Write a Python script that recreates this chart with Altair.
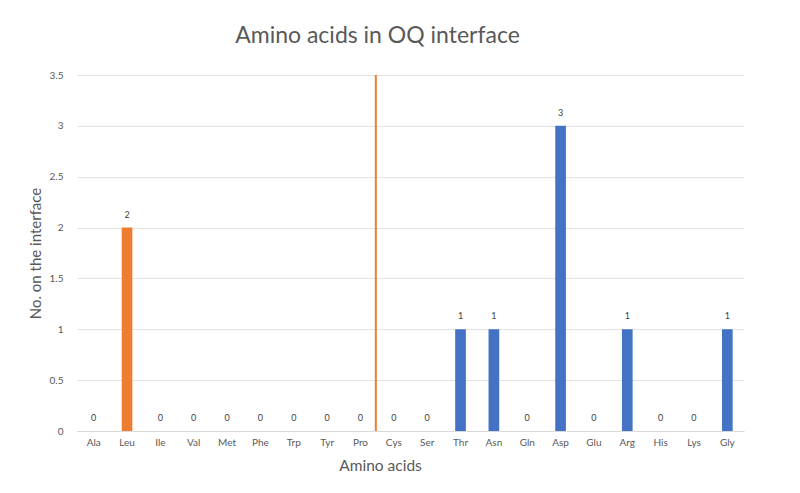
import altair as alt
import pandas as pd

amino_acids = ["Ala", "Leu", "Ile", "Val", "Met", "Phe", "Trp", "Tyr", "Pro", "Cys",
               "Ser", "Thr", "Asn", "Gln", "Asp", "Glu", "Arg", "His", "Lys", "Gly"]
counts = [0, 2, 0, 0, 0, 0, 0, 0, 0, 0, 0, 1, 1, 0, 3, 0, 1, 0, 0, 1]
groups = ["Hydrophobic"] * 9 + ["Other"] * 11
divider_after = ["Pro"]
y_ticks = [0, 0.5, 1, 1.5, 2, 2.5, 3, 3.5]

df = pd.DataFrame({"aa": amino_acids, "count": counts, "group": groups})
div_df = pd.DataFrame({"aa": divider_after})

FONT = "Lato"
GREY = "#595959"

x_enc = alt.X("aa:N", sort=amino_acids,
              scale=alt.Scale(domain=amino_acids, paddingInner=0, paddingOuter=0),
              axis=alt.Axis(title="Amino acids", labelAngle=0, ticks=False, grid=False,
                            domainColor="#d9d9d9", labelColor=GREY, labelFontSize=10,
                            labelFont=FONT, labelPadding=6,
                            titleFont=FONT, titleFontSize=15.5, titleFontWeight="normal",
                            titleColor=GREY, titleX=303, titleY=27, titleAlign="center"))

y_scale = alt.Scale(domain=[0, 3.5], nice=False)

bars = alt.Chart(df).mark_bar(width=alt.RelativeBandSize(0.32)).encode(
    x=x_enc,
    y=alt.Y("count:Q", scale=y_scale,
            axis=alt.Axis(title="No. on the interface", values=y_ticks, format="~g",
                          domain=False, ticks=False, gridColor="#e3e3e3",
                          labelColor=GREY, labelFontSize=10, labelFont=FONT, labelPadding=14,
                          titleFont=FONT, titleFontSize=15, titleFontWeight="normal",
                          titleColor=GREY, titlePadding=6)),
    color=alt.Color("group:N", scale=alt.Scale(domain=["Hydrophobic", "Other"],
                                               range=["#ED7D31", "#4472C4"]), legend=None),
)

labels = alt.Chart(df).mark_text(dy=-8, fontSize=9, color="#404040", font=FONT, baseline="bottom").encode(
    x=alt.X("aa:N", sort=amino_acids),
    y=alt.Y("count:Q"),
    text=alt.Text("count:Q"),
)

rule = alt.Chart(div_df).mark_rule(color="#ED7D31", strokeWidth=2).encode(
    x=alt.X("aa:N", bandPosition=0.96),
    y=alt.datum(0),
    y2=alt.datum(3.5),
)

chart = alt.layer(bars, labels, rule).properties(
    width=667, height=356,
    title=alt.TitleParams("Amino acids in OQ interface", font=FONT, fontSize=23,
                          fontWeight="normal", color=GREY, anchor="middle", dx=-33, offset=22),
    autosize=alt.AutoSizeParams(type="none"),
    padding={"left": 69, "top": 67, "right": 40, "bottom": 54},
    background="white",
).configure_view(stroke="transparent", strokeWidth=0)

chart.save("out.html", embed_options={"renderer": "svg", "actions": False})
